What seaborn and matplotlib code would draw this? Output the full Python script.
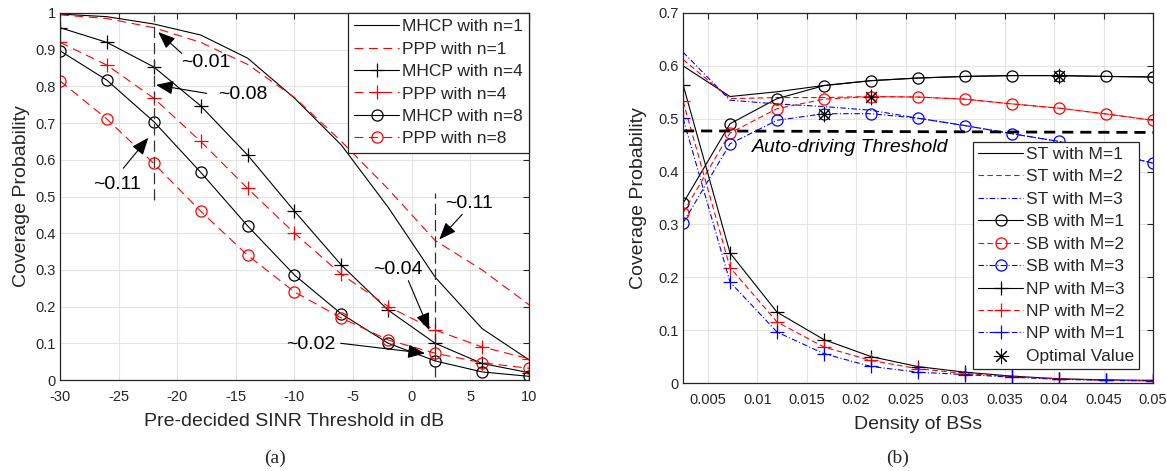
import matplotlib
matplotlib.use("Agg")
import matplotlib.pyplot as plt
import numpy as np
import pandas as pd
import seaborn as sns

# ---------------- data: panel (a) ----------------
sinr_db = [-30, -26, -22, -18, -14, -10, -6, -2, 2, 6, 10]
mhcp_n1 = [0.997, 0.99, 0.97, 0.94, 0.877, 0.768, 0.64, 0.47, 0.28, 0.14, 0.055]
ppp_n1 = [0.995, 0.985, 0.96, 0.92, 0.86, 0.77, 0.65, 0.52, 0.38, 0.30, 0.205]
mhcp_n4 = [0.96, 0.92, 0.853, 0.747, 0.613, 0.46, 0.313, 0.19, 0.10, 0.045, 0.02]
ppp_n4 = [0.92, 0.858, 0.768, 0.65, 0.522, 0.40, 0.288, 0.20, 0.136, 0.09, 0.058]
mhcp_n8 = [0.897, 0.817, 0.704, 0.566, 0.42, 0.286, 0.18, 0.10, 0.052, 0.022, 0.01]
ppp_n8 = [0.815, 0.711, 0.59, 0.46, 0.34, 0.24, 0.169, 0.109, 0.073, 0.047, 0.032]

# ---------------- data: panel (b) ----------------
density = [0.0025, 0.00725, 0.012, 0.01675, 0.0215, 0.02625, 0.031, 0.03575, 0.0405, 0.04525, 0.05]
st_m1 = [0.60, 0.542, 0.551, 0.563, 0.572, 0.577, 0.58, 0.5816, 0.5816, 0.58, 0.579]
st_m2 = [0.612, 0.538, 0.540, 0.540, 0.542, 0.541, 0.537, 0.528, 0.52, 0.509, 0.497]
st_m3 = [0.626, 0.535, 0.528, 0.523, 0.516, 0.501, 0.487, 0.4716, 0.457, 0.437, 0.416]
sb_m1 = [0.340, 0.4905, 0.538, 0.5626, 0.572, 0.577, 0.58, 0.5816, 0.5816, 0.58, 0.579]
sb_m2 = [0.322, 0.473, 0.519, 0.537, 0.542, 0.541, 0.537, 0.528, 0.52, 0.509, 0.497]
sb_m3 = [0.303, 0.4526, 0.497, 0.5095, 0.5095, 0.501, 0.487, 0.4716, 0.457, 0.437, 0.416]
np_m3 = [0.5645, 0.246, 0.134, 0.082, 0.050, 0.031, 0.0205, 0.013, 0.008, 0.006, 0.005]
np_m2 = [0.533, 0.2185, 0.1154, 0.068, 0.0427, 0.027, 0.018, 0.012, 0.008, 0.005, 0.004]
np_m1 = [0.501, 0.191, 0.0964, 0.0554, 0.0313, 0.0205, 0.016, 0.011, 0.007, 0.005, 0.004]
opt_x = [0.0405, 0.0215, 0.01675]
opt_y = [0.5816, 0.542, 0.5095]
threshold_x = [0.0025, 0.05]
threshold_y = [0.477, 0.474]

a_xticks = [-30, -25, -20, -15, -10, -5, 0, 5, 10]
a_yticks = [0, 0.1, 0.2, 0.3, 0.4, 0.5, 0.6, 0.7, 0.8, 0.9, 1]
a_yticklabels = ["0", "0.1", "0.2", "0.3", "0.4", "0.5", "0.6", "0.7", "0.8", "0.9", "1"]
b_xticks = [0.005, 0.01, 0.015, 0.02, 0.025, 0.03, 0.035, 0.04, 0.045, 0.05]
b_xticklabels = ["0.005", "0.01", "0.015", "0.02", "0.025", "0.03", "0.035", "0.04", "0.045", "0.05"]
b_yticks = [0, 0.1, 0.2, 0.3, 0.4, 0.5, 0.6, 0.7]
b_yticklabels = ["0", "0.1", "0.2", "0.3", "0.4", "0.5", "0.6", "0.7"]

# ---------------- style ----------------
sns.set_theme(style="whitegrid")
plt.rcParams["font.family"] = ["Liberation Sans", "DejaVu Sans"]
plt.rcParams["axes.edgecolor"] = "#262626"
plt.rcParams["grid.color"] = "#e3e3e3"
plt.rcParams["grid.linewidth"] = 0.8
plt.rcParams["axes.linewidth"] = 0.9

fig = plt.figure(figsize=(11.67, 4.71), dpi=100)
ax1 = fig.add_axes([0.0514, 0.1932, 0.4019, 0.7792])
ax2 = fig.add_axes([0.5853, 0.1868, 0.4027, 0.7856])

LW = 0.8
DASH_A = (0, (8, 5))
RED = "#ff0000"
BLUE = "#0000ff"


def line(ax, x, y, color, ls, marker=None, label=None, ms=8, mew=0.9):
    kw = dict(x=x, y=y, ax=ax, color=color, linestyle=ls, linewidth=LW,
              label=label, estimator=None, sort=False)
    if marker is not None:
        kw.update(marker=marker, markersize=ms, markeredgewidth=mew,
                  markerfacecolor="none", markeredgecolor=color)
    sns.lineplot(**kw)


# ---------------- panel (a) ----------------
line(ax1, sinr_db, mhcp_n1, "black", "-", label="MHCP with n=1")
line(ax1, sinr_db, ppp_n1, RED, DASH_A, label="PPP with n=1")
line(ax1, sinr_db, mhcp_n4, "black", "-", marker="+", ms=10, label="MHCP with n=4")
line(ax1, sinr_db, ppp_n4, RED, DASH_A, marker="+", ms=10, label="PPP with n=4")
line(ax1, sinr_db, mhcp_n8, "black", "-", marker="o", ms=8, label="MHCP with n=8")
line(ax1, sinr_db, ppp_n8, RED, DASH_A, marker="o", ms=8, label="PPP with n=8")

ax1.plot([-22, -22], [0.49, 0.995], color="#333333", lw=0.9, linestyle=(0, (9, 4)))
ax1.plot([2, 2], [0.008, 0.51], color="#333333", lw=0.9, linestyle=(0, (9, 4)))

arrow_style = dict(arrowstyle="-|>,head_length=0.75,head_width=0.3", color="black",
                   lw=0.8, mutation_scale=14, shrinkA=0, shrinkB=0)
annots = [
    ("~0.01", (-17.55, 0.864), (-19.62, 0.890), (-21.62, 0.948)),
    ("~0.08", (-14.44, 0.777), (-17.49, 0.781), (-21.81, 0.804)),
    ("~0.11", (-25.1, 0.534), (-24.6, 0.577), (-22.47, 0.660)),
    ("~0.11", (4.88, 0.480), (4.31, 0.4515), (2.35, 0.383)),
    ("~0.04", (-1.22, 0.302), (-0.29, 0.2706), (1.50, 0.136)),
    ("~0.02", (-8.6, 0.098), (-6.06, 0.100), (1.13, 0.0727)),
]
for txt, tpos, tail, head in annots:
    ax1.text(tpos[0], tpos[1], txt, fontsize=14, ha="center", va="center", color="black")
    ax1.annotate("", xy=head, xytext=tail, arrowprops=arrow_style)

ax1.set_xlim(-30, 10)
ax1.set_ylim(0, 1)
ax1.set_xticks(a_xticks)
ax1.set_xticklabels([str(t) for t in a_xticks])
ax1.set_yticks(a_yticks)
ax1.set_yticklabels(a_yticklabels)
ax1.set_xlabel("Pre-decided SINR Threshold in dB", fontsize=14, color="#262626", labelpad=7)
ax1.set_ylabel("Coverage Probability", fontsize=14, color="#262626", labelpad=4)
leg1 = ax1.legend(loc="upper right", fontsize=12.5, frameon=True, fancybox=False,
                  edgecolor="#262626", framealpha=1, borderaxespad=0.0,
                  handlelength=2.6, labelspacing=0.42, handletextpad=0.15,
                  borderpad=0.35)
leg1.get_frame().set_linewidth(0.9)

# ---------------- panel (b) ----------------
DASH_B = (0, (5, 3))
DOT_B = (0, (5, 2, 1, 2))
line(ax2, density, st_m1, "black", "-", label="ST with M=1")
line(ax2, density, st_m2, RED, DASH_B, label="ST with M=2")
line(ax2, density, st_m3, BLUE, DOT_B, label="ST with M=3")
line(ax2, density, sb_m1, "black", "-", marker="o", ms=8, label="SB with M=1")
line(ax2, density, sb_m2, RED, DASH_B, marker="o", ms=8, label="SB with M=2")
line(ax2, density, sb_m3, BLUE, DOT_B, marker="o", ms=8, label="SB with M=3")
line(ax2, density, np_m3, "black", "-", marker="+", ms=10, label="NP with M=3")
line(ax2, density, np_m2, RED, DASH_B, marker="+", ms=10, label="NP with M=2")
line(ax2, density, np_m1, BLUE, DOT_B, marker="+", ms=10, label="NP with M=1")
sns.scatterplot(x=opt_x, y=opt_y, ax=ax2, color="black", marker=(8, 2, 0),
                s=110, linewidth=0.75, edgecolor="black", label="Optimal Value", zorder=5)
ax2.plot(threshold_x, threshold_y, color="black", lw=2, linestyle=(0, (4, 2.5)))
ax2.text(0.00947, 0.445, "Auto-driving Threshold", fontsize=14, style="italic",
         ha="left", va="center", color="black")

ax2.set_xlim(0.0025, 0.05)
ax2.set_ylim(0, 0.7)
ax2.set_xticks(b_xticks)
ax2.set_xticklabels(b_xticklabels)
ax2.set_yticks(b_yticks)
ax2.set_yticklabels(b_yticklabels)
ax2.set_xlabel("Density of BSs", fontsize=14, color="#262626", labelpad=7)
ax2.set_ylabel("Coverage Probability", fontsize=14, color="#262626", labelpad=8)
leg2 = ax2.legend(loc="lower right", fontsize=12.5, frameon=True, fancybox=False,
                  edgecolor="#262626", framealpha=1, borderaxespad=0.8,
                  handlelength=2.6, labelspacing=0.42, handletextpad=0.15,
                  borderpad=0.3)
leg2.get_frame().set_linewidth(0.9)

for ax in (ax1, ax2):
    ax.tick_params(direction="in", top=True, right=True, length=4, width=0.8,
                   labelsize=10.5, colors="#262626")
    ax.tick_params(axis="x", pad=7)
    ax.tick_params(axis="y", pad=3)
    for sp in ax.spines.values():
        sp.set_color("#262626")
        sp.set_linewidth(0.9)
    ax.grid(True, color="#e3e3e3", linewidth=0.8)
    ax.set_axisbelow(True)

fig.text(0.2356, 0.026, "(a)", fontsize=14, family=["Liberation Serif", "DejaVu Serif"],
         ha="center", va="center")
fig.text(0.7695, 0.026, "(b)", fontsize=14, family=["Liberation Serif", "DejaVu Serif"],
         ha="center", va="center")

fig.savefig("out.png", dpi=100)
